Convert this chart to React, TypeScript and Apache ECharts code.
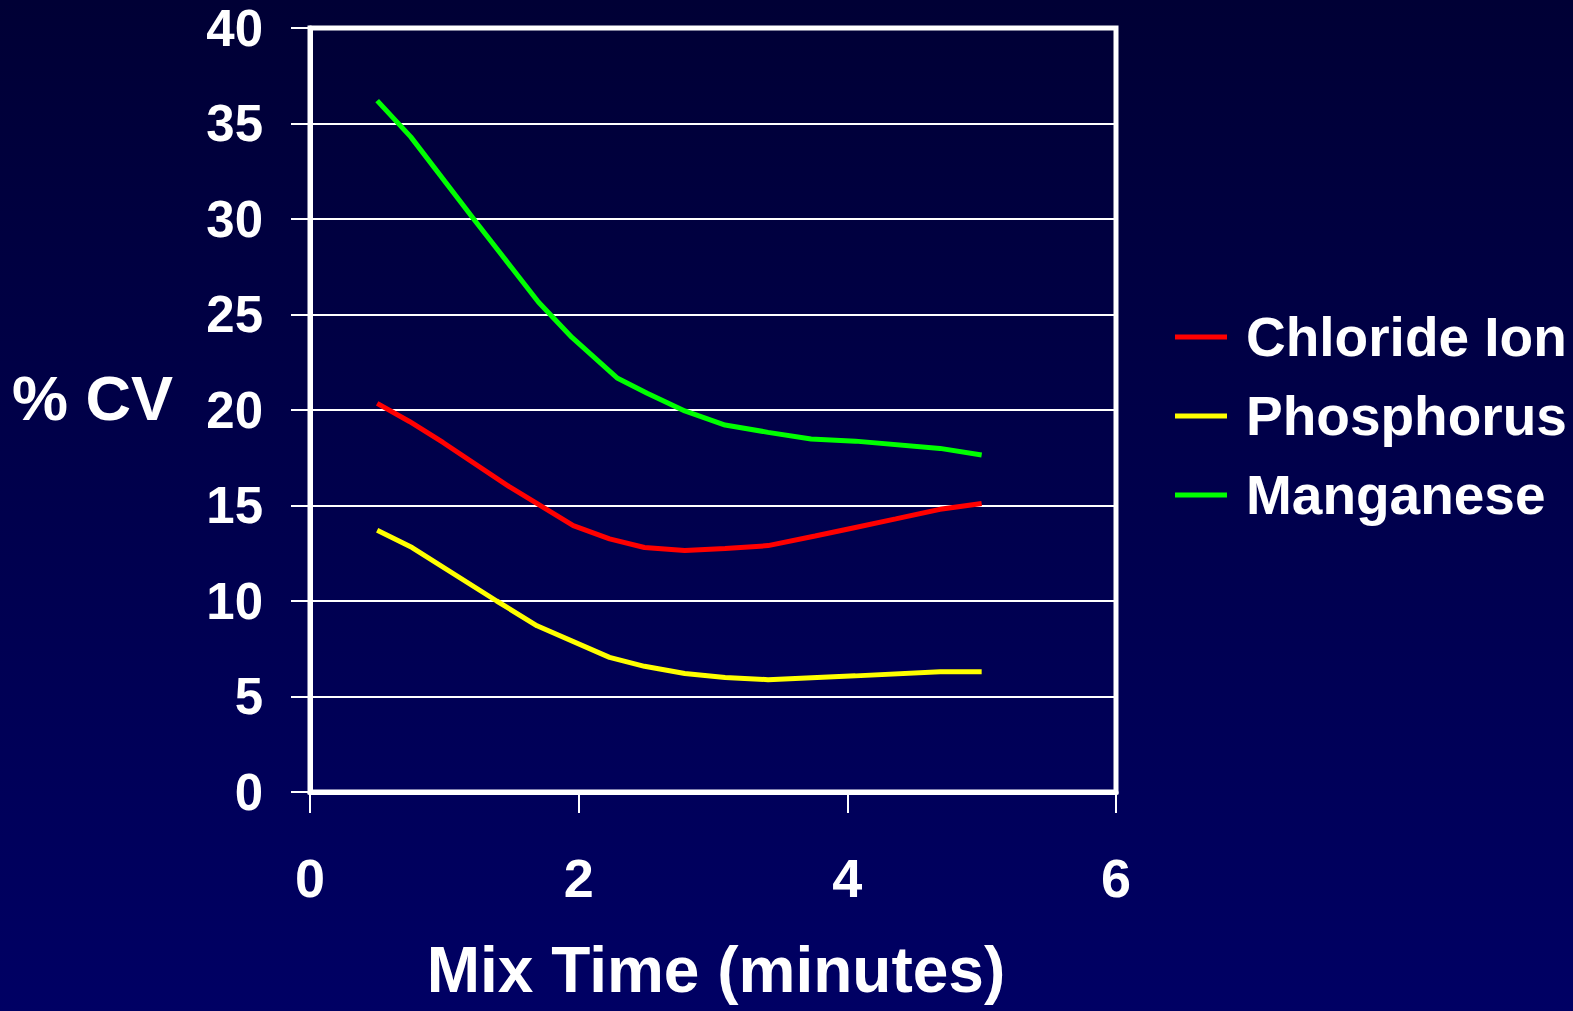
import React, { useEffect, useRef } from "react";
import * as echarts from "echarts";

const seriesNames = ["Chloride Ion", "Phosphorus", "Manganese"];
const seriesColors = ["#ff0000", "#ffff00", "#00ff00"];

const chlorideX = [0.5, 0.74, 0.99, 1.48, 1.96, 2.23, 2.49, 2.79, 3.09, 3.41, 3.76, 4.06, 4.36, 4.69, 5.0];
const chlorideY = [20.35, 19.4, 18.3, 16.0, 13.95, 13.25, 12.8, 12.65, 12.75, 12.9, 13.4, 13.85, 14.3, 14.8, 15.1];

const phosphorusX = [0.5, 0.76, 1.39, 1.69, 2.23, 2.49, 2.79, 3.09, 3.41, 4.06, 4.69, 5.0];
const phosphorusY = [13.7, 12.8, 10.0, 8.7, 7.05, 6.58, 6.2, 6.0, 5.88, 6.08, 6.3, 6.3];

const manganeseX = [0.5, 0.75, 1.23, 1.7, 1.95, 2.29, 2.51, 2.79, 3.09, 3.41, 3.73, 4.06, 4.69, 5.0];
const manganeseY = [36.2, 34.3, 29.9, 25.65, 23.8, 21.66, 20.88, 19.95, 19.21, 18.83, 18.48, 18.37, 17.99, 17.64];

const xTicks = [0, 2, 4, 6];
const yTicks = [0, 5, 10, 15, 20, 25, 30, 35, 40];

const xTitle = "Mix Time (minutes)";
const yTitle = "% CV";

const FONT = '"Liberation Sans", Arial, Helvetica, sans-serif';

function pairs(xs: number[], ys: number[]) {
  return xs.map((x, i) => [x, ys[i]]);
}

export default function App() {
  const ref = useRef<HTMLDivElement>(null);
  useEffect(() => {
    if (!ref.current) return;
    const chart = echarts.init(ref.current, null, { renderer: "svg" });
    const datas = [
      pairs(chlorideX, chlorideY),
      pairs(phosphorusX, phosphorusY),
      pairs(manganeseX, manganeseY),
    ];
    chart.setOption({
      animation: false,
      backgroundColor: {
        type: "linear",
        x: 0,
        y: 0,
        x2: 0,
        y2: 1,
        colorStops: [
          { offset: 0, color: "#000035" },
          { offset: 1, color: "#000064" },
        ],
      },
      grid: {
        left: 310,
        top: 28,
        width: 806,
        height: 764,
        show: true,
        borderColor: "#ffffff",
        borderWidth: 5,
        backgroundColor: "transparent",
      },
      legend: {
        orient: "vertical",
        left: 1170,
        top: 302,
        itemWidth: 52,
        itemHeight: 5,
        itemGap: 19,
        icon: "rect",
        data: seriesNames,
        textStyle: {
          color: "#ffffff",
          fontSize: 55,
          fontWeight: "bold",
          fontFamily: FONT,
          lineHeight: 60,
          padding: [0, 0, 0, 14],
        },
      },
      xAxis: {
        type: "value",
        min: xTicks[0],
        max: xTicks[xTicks.length - 1],
        interval: 2,
        axisLine: { show: true, onZero: false, lineStyle: { color: "#ffffff", width: 5 } },
        axisTick: { show: true, length: 21, lineStyle: { color: "#ffffff", width: 2 } },
        splitLine: { show: false },
        axisLabel: {
          color: "#ffffff",
          fontSize: 54,
          fontWeight: "bold",
          fontFamily: FONT,
          margin: 59,
        },
      },
      yAxis: {
        type: "value",
        min: yTicks[0],
        max: yTicks[yTicks.length - 1],
        interval: 5,
        axisLine: { show: true, onZero: false, lineStyle: { color: "#ffffff", width: 5 } },
        axisTick: { show: true, length: 19, lineStyle: { color: "#ffffff", width: 2 } },
        splitLine: { show: true, lineStyle: { color: "#ffffff", width: 2 } },
        axisLabel: {
          color: "#ffffff",
          fontSize: 51,
          fontWeight: "bold",
          fontFamily: FONT,
          margin: 47,
        },
      },
      graphic: [
        {
          type: "text",
          left: 12,
          top: 366,
          style: {
            text: yTitle,
            fill: "#ffffff",
            fontSize: 63,
            fontWeight: "bold",
            fontFamily: FONT,
          },
        },
        {
          type: "text",
          x: 716,
          y: 970,
          style: {
            text: xTitle,
            fill: "#ffffff",
            fontSize: 64,
            fontWeight: "bold",
            fontFamily: FONT,
            textAlign: "center",
            textVerticalAlign: "middle",
          },
        },
      ],
      series: seriesNames.map((name, i) => ({
        name,
        type: "line",
        data: datas[i],
        symbol: "none",
        smooth: false,
        color: seriesColors[i],
        lineStyle: { color: seriesColors[i], width: 5 },
      })),
    });
    return () => chart.dispose();
  }, []);
  return (
    <div
      ref={ref}
      style={{ position: "fixed", left: 0, top: 0, width: 1573, height: 1011 }}
    />
  );
}
